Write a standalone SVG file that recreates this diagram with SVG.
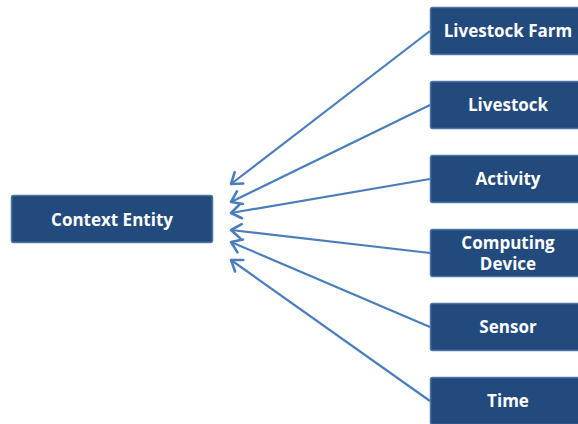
<svg xmlns="http://www.w3.org/2000/svg" width="578" height="424" viewBox="0 0 578 424">
  <style>
    .box { fill: #224A7C; stroke: #4F74A6; stroke-width: 1.5; }
    .label { fill: #FFFFFF; font-family: "Open Sans", "Noto Sans", "Liberation Sans", sans-serif; font-weight: bold; font-size: 17px; text-anchor: middle; }
    .link { stroke: #4A7EBB; stroke-width: 2.2; fill: none; marker-end: url(#head); }
  </style>
  <defs>
    <marker id="head" markerUnits="userSpaceOnUse" markerWidth="24" markerHeight="24" refX="0" refY="0" viewBox="-12 -12 24 24" orient="auto">
      <path d="M-10,-7 L0,0 L-10,7" fill="none" stroke="#4A7EBB" stroke-width="2.6" stroke-linecap="round" stroke-linejoin="round"/>
    </marker>
  </defs>
  <rect width="578" height="424" fill="#FFFFFF"/>

  <g id="connectors">
    <line class="link" x1="430" y1="31" x2="231" y2="184"/>
    <line class="link" x1="430" y1="105" x2="231" y2="202"/>
    <line class="link" x1="430" y1="179" x2="231" y2="213"/>
    <line class="link" x1="430" y1="253" x2="231" y2="230"/>
    <line class="link" x1="430" y1="327" x2="231" y2="242"/>
    <line class="link" x1="430" y1="401" x2="231" y2="260"/>
  </g>

  <g id="context-entity">
    <rect class="box" x="11.5" y="195.5" width="201" height="47" rx="2"/>
    <text class="label" x="112" y="226">Context Entity</text>
  </g>
  <g id="livestock-farm">
    <rect class="box" x="430.5" y="7.5" width="156" height="47" rx="2"/>
    <text class="label" x="508" y="37">Livestock Farm</text>
  </g>
  <g id="livestock">
    <rect class="box" x="430.5" y="81.5" width="156" height="47" rx="2"/>
    <text class="label" x="508" y="111">Livestock</text>
  </g>
  <g id="activity">
    <rect class="box" x="430.5" y="155.5" width="156" height="47" rx="2"/>
    <text class="label" x="508" y="185">Activity</text>
  </g>
  <g id="computing-device">
    <rect class="box" x="430.5" y="229.5" width="156" height="47" rx="2"/>
    <text class="label" x="508" y="249">Computing</text>
    <text class="label" x="508" y="270">Device</text>
  </g>
  <g id="sensor">
    <rect class="box" x="430.5" y="303.5" width="156" height="47" rx="2"/>
    <text class="label" x="508" y="333">Sensor</text>
  </g>
  <g id="time">
    <rect class="box" x="430.5" y="377.5" width="156" height="47" rx="2"/>
    <text class="label" x="508" y="407">Time</text>
  </g>
</svg>
